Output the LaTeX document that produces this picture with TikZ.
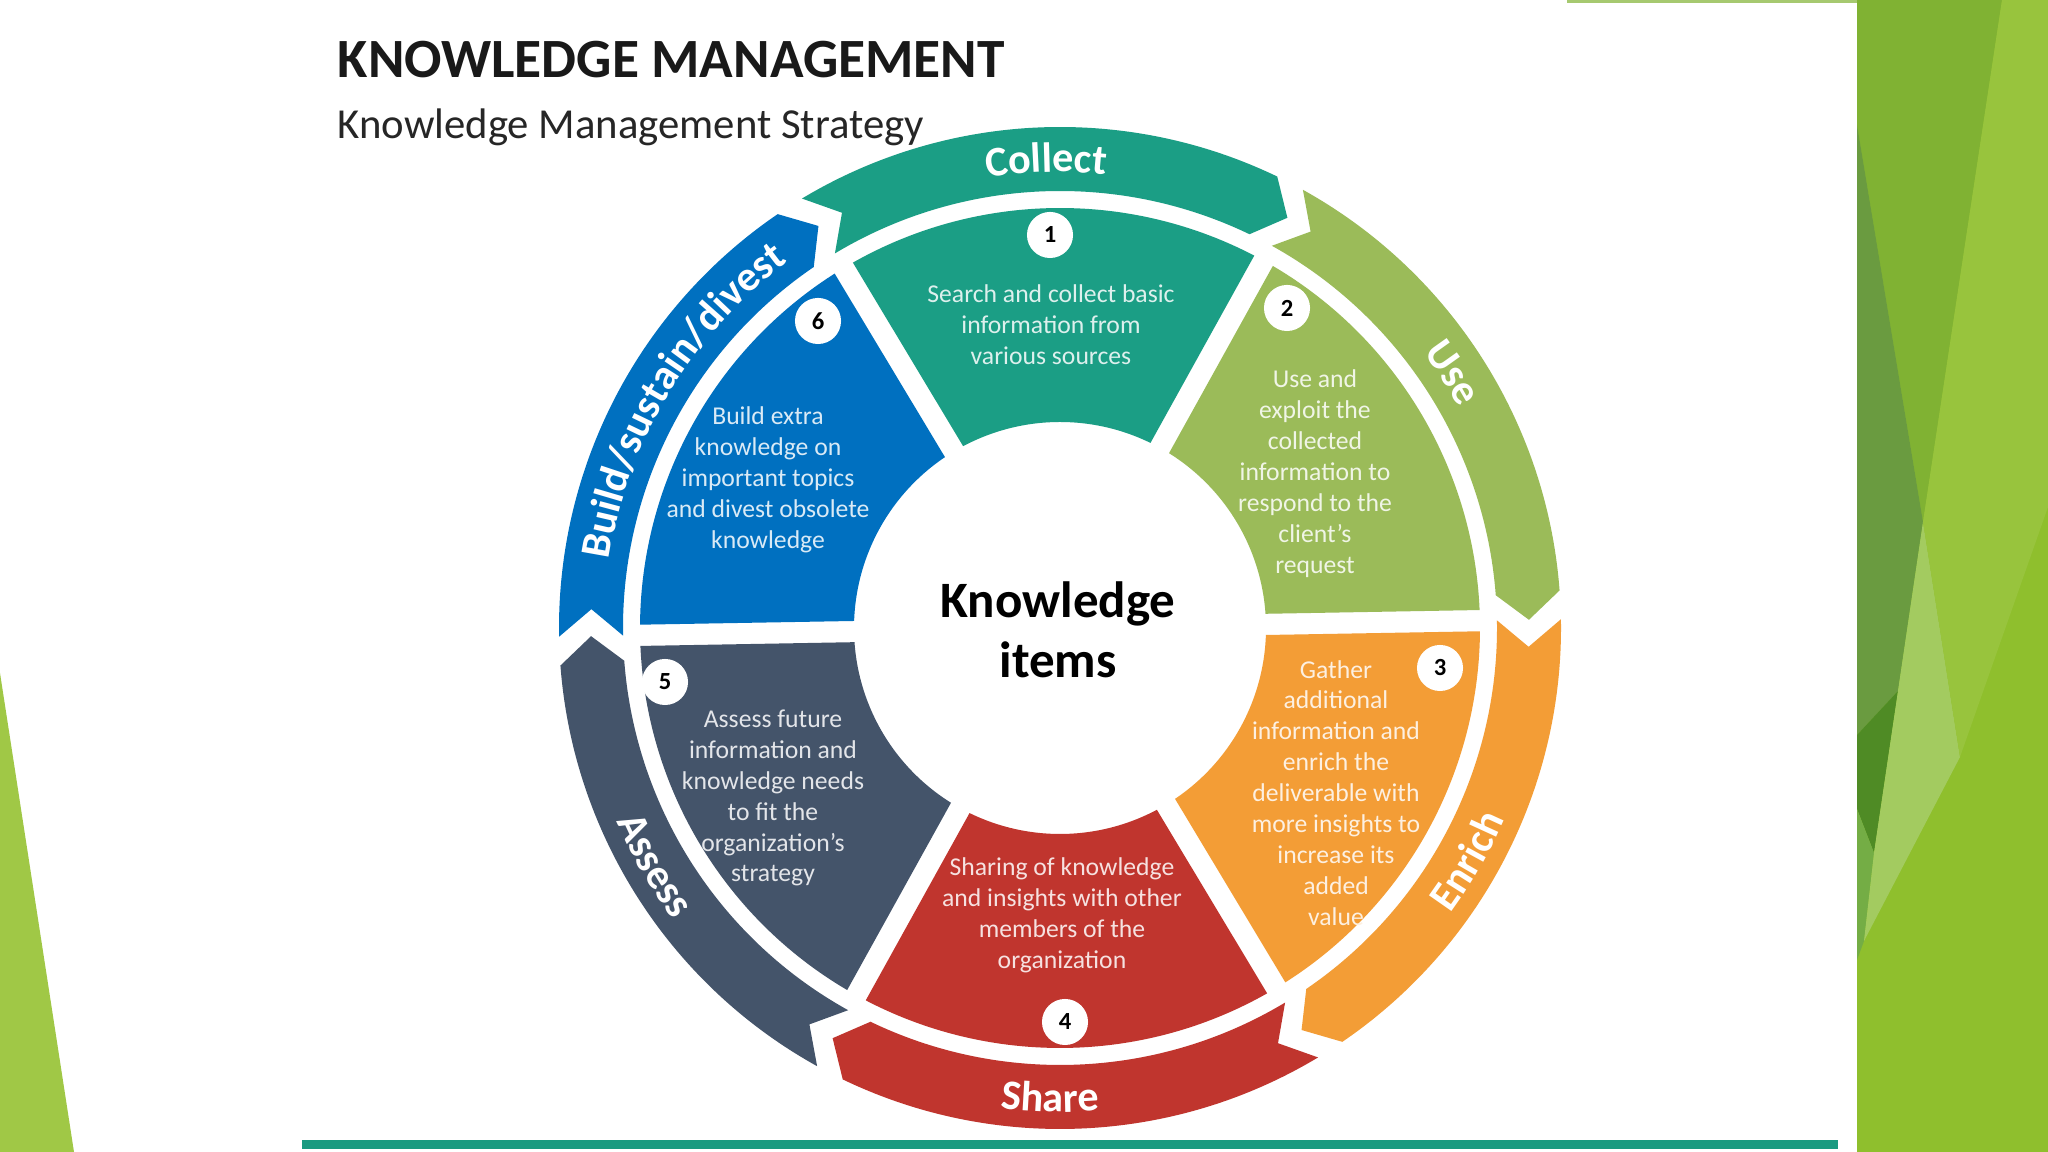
\documentclass[tikz,border=0pt]{standalone}
\usepackage{fontspec}
\setmainfont{Carlito}
\usetikzlibrary{decorations.text}
\definecolor{cTeal}{HTML}{1B9E85}
\definecolor{cGreen}{HTML}{9BBB59}
\definecolor{cOrange}{HTML}{F39D36}
\definecolor{cRed}{HTML}{C0352E}
\definecolor{cSlate}{HTML}{44546A}
\definecolor{cBlue}{HTML}{0070C0}
\definecolor{gBase}{HTML}{8FBF2D}
\definecolor{gMid}{HTML}{80B233}
\definecolor{gDark}{HTML}{6A9B40}
\definecolor{gDarker}{HTML}{4F8B25}
\definecolor{gSmall}{HTML}{74AD45}
\definecolor{gLight}{HTML}{A3CB60}
\definecolor{gTopR}{HTML}{98C43D}
\definecolor{gLeft}{HTML}{A0C846}
\definecolor{lineTeal}{HTML}{1A9A80}
\newcommand\bandfont{\fontsize{12}{14}\selectfont\bfseries}
\begin{document}
\begin{tikzpicture}[x=0.01cm,y=0.01cm,
  sectortext/.style={align=center, font=\fontsize{7.3}{8.8}\selectfont, inner sep=0pt},
  badge/.style={circle, fill=white, minimum size=13.1pt, inner sep=0pt, text=black, font=\fontsize{7}{8}\selectfont\bfseries},
  bandlabel/.style={decorate, decoration={text along path, text align=center, text={|\bandfont\color{white}|#1}}}]
\useasboundingbox (0,0) rectangle (2048,1152);
\fill[white] (0,0) rectangle (2048,1152);
% left green sliver
\fill[gLeft] (0,479) -- (74,0) -- (0,0) -- cycle;
% right green panel
\fill[gBase] (1857,0) rectangle (2048,1152);
\fill[gMid] (1857,1152) -- (2002,1152) -- (1923,630) -- (1857,1027) -- cycle;
\fill[gDark] (1857,1027) -- (1923,630) -- (1898,461) -- (1857,417) -- cycle;
\fill[gDarker] (1857,417) -- (1898,461) -- (1874,299) -- (1857,343) -- cycle;
\fill[gSmall] (1857,343) -- (1874,299) -- (1864,211) -- (1857,192) -- cycle;
\fill[gLight] (1923,630) -- (1960,395) -- (1864,211) -- (1874,299) -- (1898,461) -- cycle;
\fill[gTopR] (2002,1152) -- (2048,1152) -- (2048,645) -- (1960,395) -- (1923,630) -- cycle;
% thin top line and bottom teal line
\fill[gMid!70!white] (1567,1149) rectangle (1857,1152);
\fill[lineTeal] (302,3) rectangle (1838,12);
% titles
\node[anchor=base west, inner sep=0pt, font=\fontsize{15.75}{18}\selectfont\bfseries, text=black!90] (title) at (337,1074) {KNOWLEDGE MANAGEMENT};
\node[anchor=base west, inner sep=0pt, font=\fontsize{12.15}{15}\selectfont, text=black!85] (subtitle) at (337,1013) {Knowledge Management Strategy};
% wheel
\begin{scope}[shift={(1060,524)}, rotate=1]
  % outer arrow bands
  \foreach \p/\c in {90/cTeal, 30/cGreen, -30/cOrange, -90/cRed, -150/cSlate, 150/cBlue}{
    \fill[\c] ({\p+30}:501) arc[start angle={\p+30}, end angle={\p-26.7}, radius=501]
      -- ({\p-30}:469) -- ({\p-26.7}:437)
      arc[start angle={\p-26.7}, end angle={\p+30}, radius=437]
      -- ({\p+26.7}:469) -- cycle;
  }
  % inner sectors
  \foreach \a/\c in {60/cTeal, 0/cGreen, -60/cOrange, -120/cRed, 180/cSlate, 120/cBlue}{
    \fill[\c] ({\a+1.45}:420) arc[start angle={\a+1.45}, end angle={\a+58.55}, radius=420]
      -- ({\a+57.05}:206) arc[start angle={\a+57.05}, end angle={\a+2.95}, radius=206]
      -- cycle;
  }
  % band labels
  \path[bandlabel=Collect] (120.7:456) arc[start angle=120.7, end angle=60.7, radius=456];
  \path[bandlabel=Use] (62:456) arc[start angle=62, end angle=2, radius=456];
  \path[bandlabel=Enrich] (-60.7:484) arc[start angle=-60.7, end angle=-0.7, radius=484];
  \path[bandlabel=Share] (-122.2:484) arc[start angle=-122.2, end angle=-62.2, radius=484];
  \path[bandlabel=Assess] (179.3:484) arc[start angle=179.3, end angle=239.3, radius=484];
  \path[bandlabel=Build/sustain/divest] (178:456) arc[start angle=178, end angle=118, radius=456];
\end{scope}
% centre
\node[align=center, font=\fontsize{14.5}{17}\selectfont\bfseries, text=black] (centre) at (1058,522) {Knowledge\\items};
% badges
\node[badge] (b1) at (1050,917) {1};
\node[badge] (b2) at (1287,844) {2};
\node[badge] (b3) at (1440,484) {3};
\node[badge] (b4) at (1065,130) {4};
\node[badge] (b5) at (665,470) {5};
\node[badge] (b6) at (818,831) {6};
% sector texts
\node[sectortext, text=cTeal!15!white] (t1) at (1051,827) {Search and collect basic\\information from\\various sources};
\node[sectortext, text=cGreen!15!white] (t2) at (1315,678) {Use and\\exploit the\\collected\\information to\\respond to the\\client’s\\request};
\node[sectortext, text=cOrange!15!white] (t3) at (1336,359) {Gather\\additional\\information and\\enrich the\\deliverable with\\more insights to\\increase its\\added\\value};
\node[sectortext, text=cRed!15!white] (t4) at (1062,237) {Sharing of knowledge\\and insights with other\\members of the\\organization};
\node[sectortext, text=cSlate!15!white] (t5) at (773,354) {Assess future\\information and\\knowledge needs\\to fit the\\organization’s\\strategy};
\node[sectortext, text=cBlue!15!white] (t6) at (768,672) {Build extra\\knowledge on\\important topics\\and divest obsolete\\knowledge};
\end{tikzpicture}
\end{document}
